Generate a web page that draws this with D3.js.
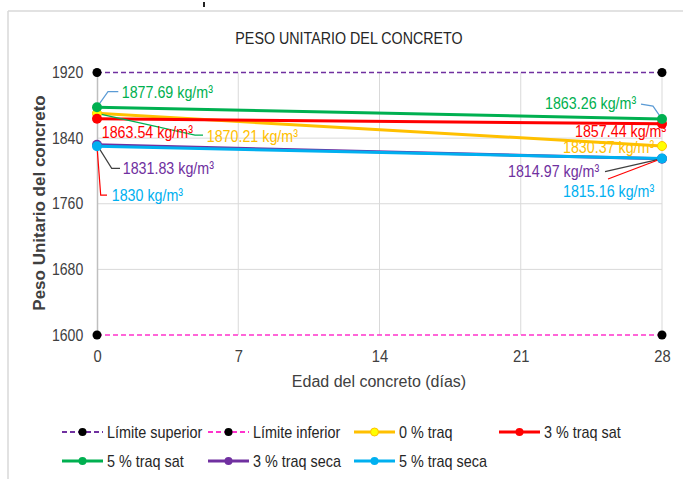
<!DOCTYPE html>
<html>
<head>
<meta charset="utf-8">
<script src="https://cdn.jsdelivr.net/npm/d3@7"></script>
<style>
  body { margin: 0; background: #fff; }
  text { font-family: "Liberation Sans", Arial, sans-serif; }
</style>
</head>
<body>
<div id="chart"></div>
<script>
// data
var days = [0, 28];
var limSup = [1920, 1920];
var limInf = [1600, 1600];
var traq0 = [1870.21, 1830.37];
var traq3sat = [1863.54, 1857.44];
var traq5sat = [1877.69, 1863.26];
var traq3seca = [1831.83, 1814.97];
var traq5seca = [1830, 1815.16];
var xTicks = [0, 7, 14, 21, 28];
var yTicks = [1600, 1680, 1760, 1840, 1920];
var seriesNames = ["Límite superior", "Límite inferior", "0 % traq", "3 % traq sat",
    "5 % traq sat", "3 % traq seca", "5 % traq seca"];

var series = [
    { name: seriesNames[0], values: limSup, color: "#7030A0", dash: "5,3", marker: "#000", width: 1.5, r: 4.5 },
    { name: seriesNames[1], values: limInf, color: "#FF33CC", dash: "5,3", marker: "#000", width: 1.5, r: 4.5 },
    { name: seriesNames[2], values: traq0, color: "#FFC000", marker: "#FFFF00", width: 3, r: 4.5 },
    { name: seriesNames[3], values: traq3sat, color: "#FF0000", marker: "#FF0000", width: 3, r: 5 },
    { name: seriesNames[4], values: traq5sat, color: "#00B050", marker: "#00B050", width: 3, r: 5 },
    { name: seriesNames[5], values: traq3seca, color: "#7030A0", marker: "#7030A0", width: 3, r: 5 },
    { name: seriesNames[6], values: traq5seca, color: "#00B0F0", marker: "#00B0F0", width: 3, r: 5 }
];

// data labels: offset of the text from its point, and an optional leader (offsets too)
var labels = [
    { s: 4, i: 0, dx: 24.7, dy: -9, leader: "#5B9BD5", path: [[11, -15.5], [21.3, -15.5]] },
    { s: 3, i: 0, dx: 4.7, dy: 19.5 },
    { s: 2, i: 0, dx: 109.7, dy: 28.4, leader: "#00B050", path: [[98, 21.7], [106, 21.7]] },
    { s: 5, i: 0, dx: 25.7, dy: 29.5, leader: "#404040", path: [[14.7, 23.5], [23, 23.5]] },
    { s: 6, i: 0, dx: 14.7, dy: 54.5, leader: "#FF0000", path: [[3.7, 48.7], [10, 48.7]] },
    { s: 4, i: 1, dx: -117, dy: -9.7, leader: "#5B9BD5", path: [[-9, -13], [-21, -15]] },
    { s: 3, i: 1, dx: -87, dy: 12.9 },
    { s: 2, i: 1, dx: -99, dy: 7.3 },
    { s: 5, i: 1, dx: -154, dy: 18.6, leader: "#404040", path: [[-57, 13]] },
    { s: 6, i: 1, dx: -99, dy: 38.8, leader: "#FF0000", path: [[-54, 20.5]] }
];

var W = 683, H = 479;
var svg = d3.select("#chart").append("svg").attr("width", W).attr("height", H);

// narrow looking text: squeeze horizontally
function addText(g, x, y, str, size, sx) {
    return g.append("text")
        .attr("transform", "translate(" + x + "," + y + ") scale(" + sx + ",1)")
        .attr("font-size", size).text(str);
}

// outer frame (only top and left edges visible)
svg.append("line").attr("x1", 8).attr("x2", W).attr("y1", 11).attr("y2", 11)
    .attr("stroke", "#d9d9d9").attr("stroke-width", 1.5);
svg.append("line").attr("x1", 8).attr("x2", 8).attr("y1", 11).attr("y2", H)
    .attr("stroke", "#d9d9d9").attr("stroke-width", 1.5);
svg.append("rect").attr("x", 203).attr("y", 2).attr("width", 2).attr("height", 5).attr("fill", "#222");

var x = d3.scaleLinear().domain([0, 28]).range([97, 662]);
var y = d3.scaleLinear().domain([1600, 1920]).range([335, 72.5]);

// gridlines
svg.append("g").selectAll("line").data(xTicks.slice(1)).enter().append("line")
    .attr("x1", function(d) { return x(d); }).attr("x2", function(d) { return x(d); })
    .attr("y1", y(1920)).attr("y2", y(1600))
    .attr("stroke", "#d9d9d9").attr("stroke-width", 1);
svg.append("g").selectAll("line").data(yTicks.slice(1, 4)).enter().append("line")
    .attr("x1", x(0)).attr("x2", x(28))
    .attr("y1", function(d) { return y(d); }).attr("y2", function(d) { return y(d); })
    .attr("stroke", "#d9d9d9").attr("stroke-width", 1);

// axes
var yAxis = svg.append("g").attr("transform", "translate(" + x(0) + ",0)")
    .call(d3.axisLeft(y).tickValues(yTicks).tickSize(0).tickPadding(15.6).tickFormat(d3.format("d")));
yAxis.select(".domain").attr("stroke", "#bfbfbf").attr("stroke-width", 1.5);
yAxis.selectAll(".tick text").attr("font-size", 16).attr("fill", "#404040")
    .attr("font-family", "Liberation Sans, Arial, sans-serif")
    .attr("transform", "scale(0.88,1)");

var xAxis = svg.append("g").attr("transform", "translate(0," + y(1600) + ")")
    .call(d3.axisBottom(x).tickValues(xTicks).tickSize(0).tickPadding(16));
xAxis.select(".domain").remove();
xAxis.selectAll(".tick text").attr("font-size", 16).attr("fill", "#404040")
    .attr("font-family", "Liberation Sans, Arial, sans-serif")
    .attr("transform", "scale(0.92,1)");

// titles
addText(svg, 349, 44, "PESO UNITARIO DEL CONCRETO", 17, 0.84)
    .attr("text-anchor", "middle").attr("fill", "#262626");
addText(svg, 379, 387, "Edad del concreto (días)", 16, 1)
    .attr("text-anchor", "middle").attr("fill", "#404040");
svg.append("text").attr("transform", "translate(45,203) rotate(-90)").attr("text-anchor", "middle")
    .attr("font-size", 17).attr("font-weight", "bold").attr("fill", "#404040")
    .text("Peso Unitario del concreto");

// series lines
var line = d3.line().x(function(d, i) { return x(days[i]); }).y(function(d) { return y(d); });
series.forEach(function(s) {
    svg.append("path").datum(s.values).attr("d", line)
        .attr("fill", "none").attr("stroke", s.color).attr("stroke-width", s.width)
        .attr("stroke-dasharray", s.dash || null);
});

// leader lines (under markers)
labels.forEach(function(l) {
    var s = series[l.s];
    var px = x(days[l.i]), py = y(s.values[l.i]);
    if (l.leader) {
        var pts = [[px, py]].concat(l.path.map(function(p) { return [px + p[0], py + p[1]]; }));
        svg.append("path").attr("d", d3.line()(pts))
            .attr("fill", "none").attr("stroke", l.leader).attr("stroke-width", 1.2);
    }
});

series.forEach(function(s, k) {
    svg.append("g").selectAll("circle").data(s.values).enter().append("circle")
        .attr("cx", function(d, i) { return x(days[i]); })
        .attr("cy", function(d) { return y(d); })
        .attr("r", s.r).attr("fill", s.marker)
        .attr("stroke", k == 2 ? "#FFC000" : "none").attr("stroke-width", 1);
});

// data labels
labels.forEach(function(l) {
    var s = series[l.s];
    var px = x(days[l.i]), py = y(s.values[l.i]);
    addText(svg, px + l.dx, py + l.dy, s.values[l.i] + " kg/m³", 17, 0.84)
        .attr("fill", s.color);
});

// legend
var legendPos = [[62, 432], [208, 432], [354, 432], [499, 432], [62, 461], [208, 461], [354, 461]];
var lg = svg.append("g").selectAll("g").data(series).enter().append("g")
    .attr("transform", function(d, i) { return "translate(" + legendPos[i][0] + "," + legendPos[i][1] + ")"; });
lg.append("line").attr("x1", 0).attr("x2", 41).attr("y1", 0).attr("y2", 0)
    .attr("stroke", function(d) { return d.color; })
    .attr("stroke-width", function(d) { return d.dash ? 2 : 3; })
    .attr("stroke-dasharray", function(d) { return d.dash || null; });
lg.append("circle").attr("cx", 20.5).attr("cy", 0).attr("r", 4)
    .attr("fill", function(d) { return d.marker; })
    .attr("stroke", function(d, i) { return i == 2 ? "#FFC000" : "none"; });
lg.each(function(d) {
    addText(d3.select(this), 45, 6, d.name, 16, 0.9).attr("fill", "#262626");
});
</script>
</body>
</html>
